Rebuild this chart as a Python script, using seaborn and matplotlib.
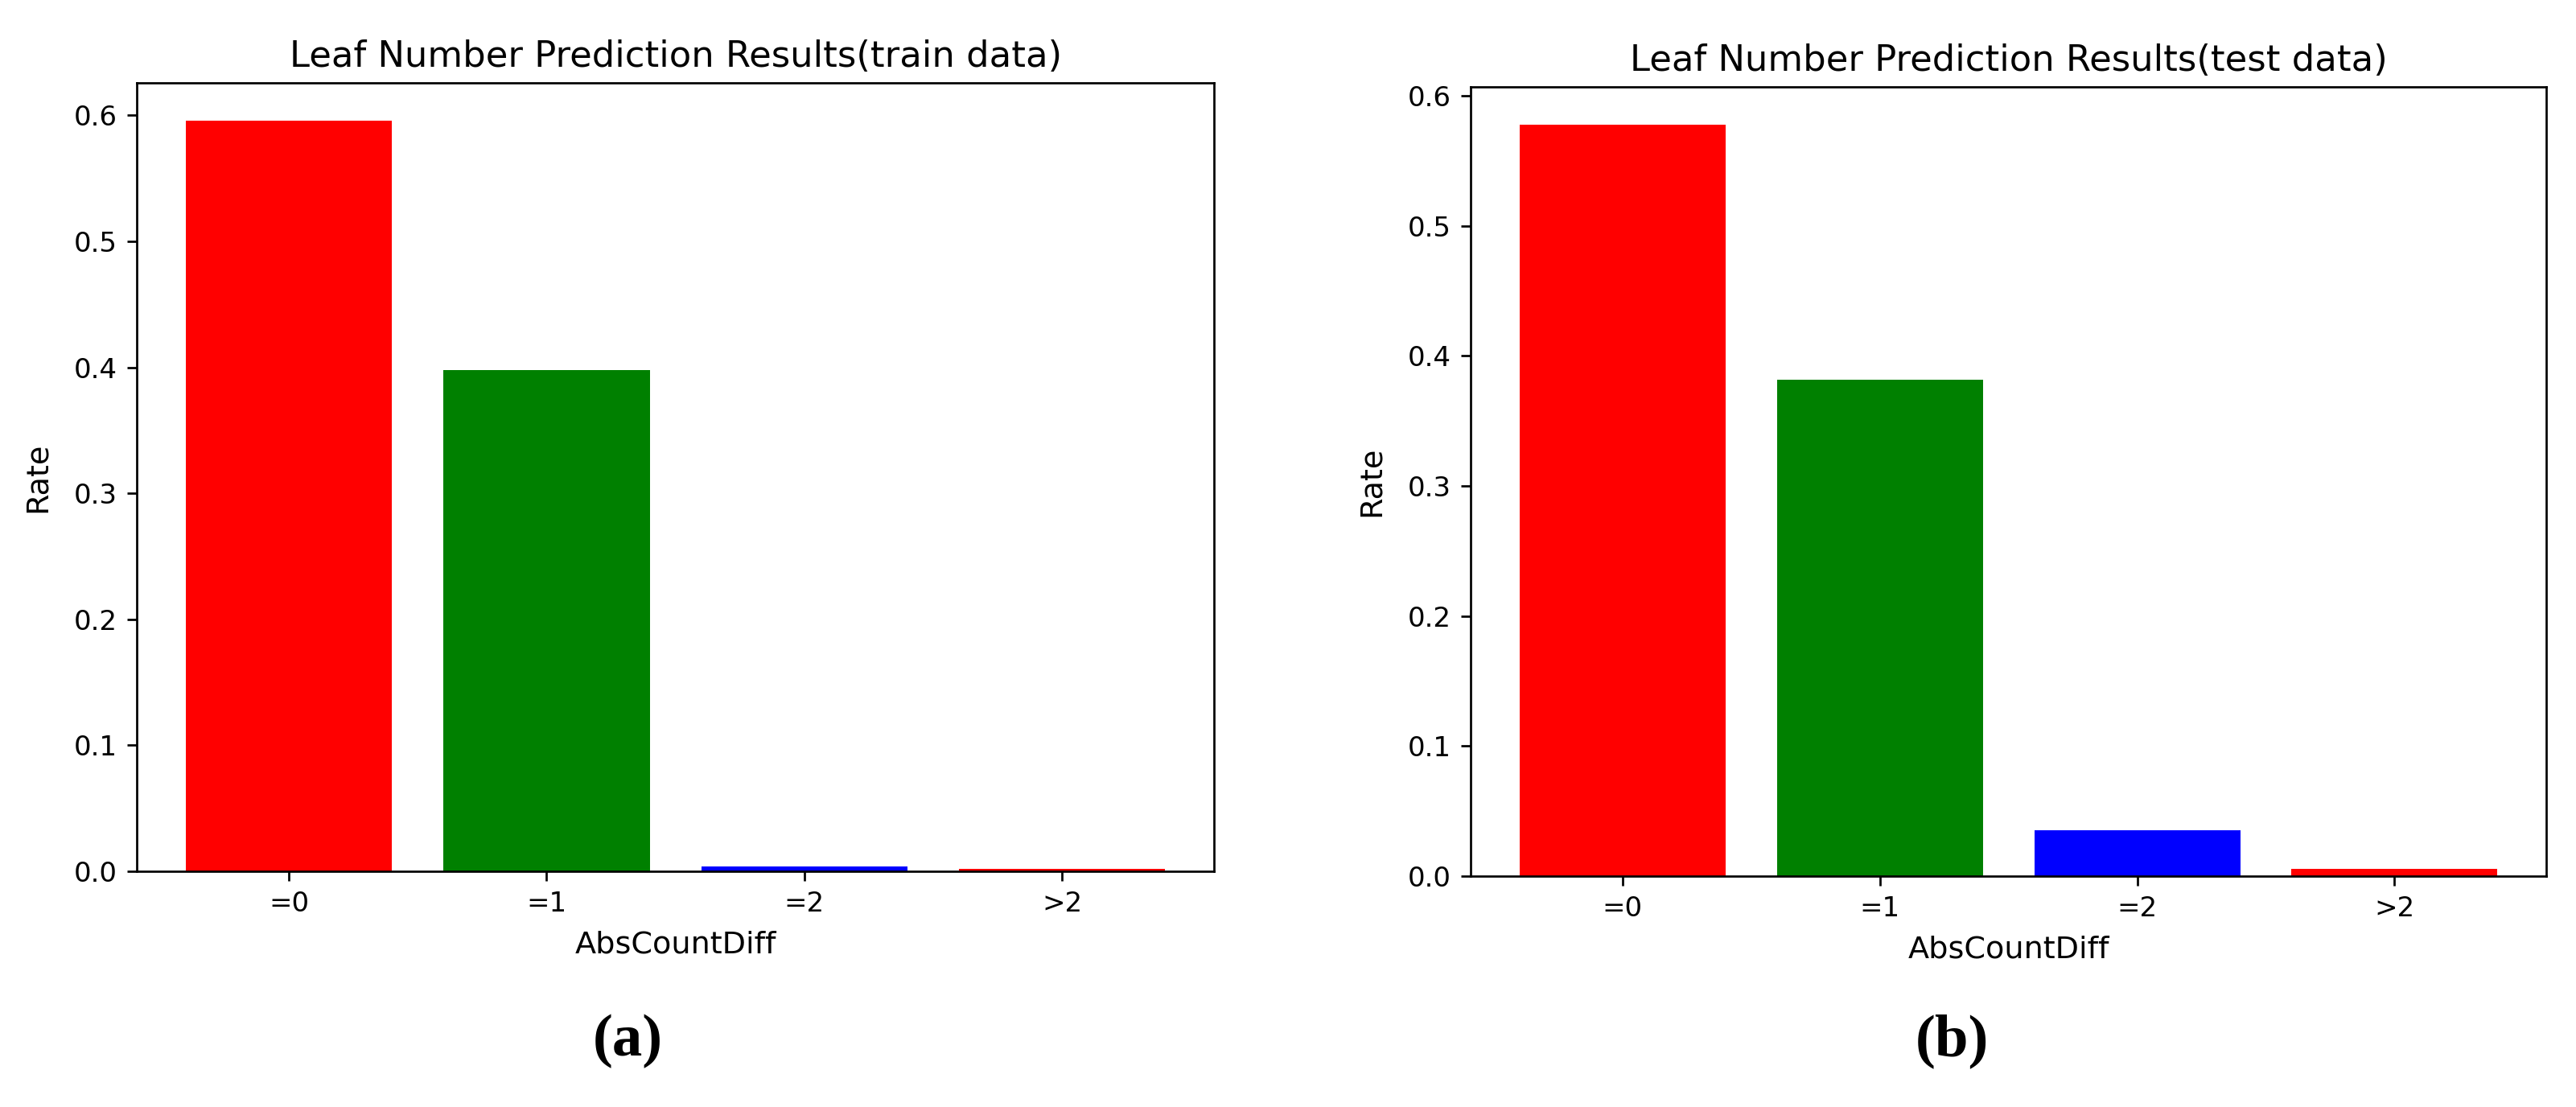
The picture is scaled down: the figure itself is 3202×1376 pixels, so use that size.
import matplotlib
matplotlib.use("Agg")
import matplotlib.pyplot as plt
import seaborn as sns
import pandas as pd

categories = ["=0", "=1", "=2", ">2"]
train_rates = [0.596, 0.398, 0.004, 0.002]
test_rates = [0.578, 0.382, 0.035, 0.0056]
bar_colors = ["#ff0000", "#008000", "#0000ff", "#ff0000"]
titles = ["Leaf Number Prediction Results(train data)", "Leaf Number Prediction Results(test data)"]
panel_labels = ["(a)", "(b)"]

sns.set_style("ticks", {"axes.edgecolor": "black", "xtick.color": "black", "ytick.color": "black",
                        "text.color": "black", "axes.labelcolor": "black"})
plt.rcParams["font.family"] = ["DejaVu Sans"]
plt.rcParams["axes.linewidth"] = 0.8
plt.rcParams["xtick.major.width"] = 0.8
plt.rcParams["ytick.major.width"] = 0.8
plt.rcParams["xtick.major.size"] = 3.5
plt.rcParams["ytick.major.size"] = 3.5

DPI = 245
fig = plt.figure(figsize=(3202 / DPI, 1376 / DPI), dpi=DPI)
ax1 = fig.add_axes([0.0531, 0.2129, 0.4182, 0.7122])
ax2 = fig.add_axes([0.5709, 0.2086, 0.4176, 0.7129])

for ax, vals, title in [(ax1, train_rates, titles[0]), (ax2, test_rates, titles[1])]:
    df = pd.DataFrame({"AbsCountDiff": categories, "Rate": vals})
    sns.barplot(data=df, x="AbsCountDiff", y="Rate", hue="AbsCountDiff", palette=bar_colors,
                width=0.8, saturation=1, legend=False, ax=ax, linewidth=0)
    ax.set_xlim(-0.59, 3.59)
    ax.set_ylim(0, max(vals) * 1.05)
    ax.set_title(title, fontsize=13.2, pad=6)
    ax.set_xlabel("AbsCountDiff", fontsize=11.2, labelpad=5)
    ax.set_ylabel("Rate", fontsize=11.2, labelpad=8)
    ax.tick_params(labelsize=10)
    for s in ax.spines.values():
        s.set_visible(True)
        s.set_color("black")

fig.text(0.2436, 0.0596, panel_labels[0], ha="center", va="center", fontsize=22,
         fontweight="bold", family="Liberation Serif")
fig.text(0.7577, 0.0596, panel_labels[1], ha="center", va="center", fontsize=22,
         fontweight="bold", family="Liberation Serif")

fig.savefig("out.png", dpi=DPI, facecolor="white")
